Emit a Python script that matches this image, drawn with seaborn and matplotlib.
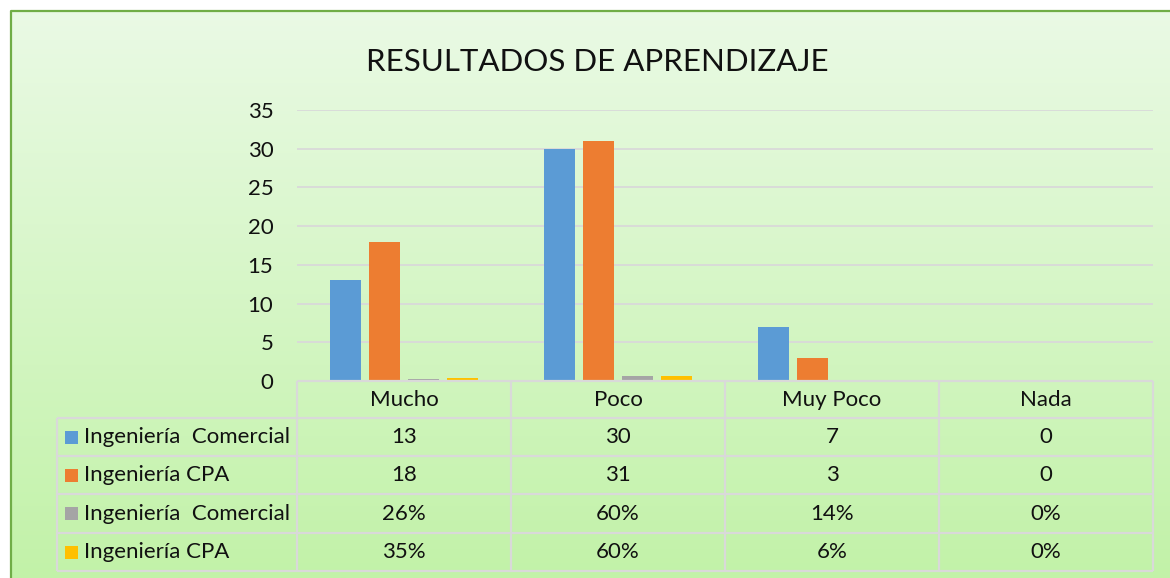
import numpy as np
import pandas as pd
import matplotlib
matplotlib.use("Agg")
import matplotlib.pyplot as plt
import seaborn as sns
from matplotlib.patches import Rectangle

# Chart data
categories = ["Mucho", "Poco", "Muy Poco", "Nada"]
series_labels = ["Ingeniería  Comercial", "Ingeniería CPA", "Ingeniería  Comercial", "Ingeniería CPA"]
comercial_counts = [13, 30, 7, 0]
cpa_counts = [18, 31, 3, 0]
comercial_pct = [0.26, 0.60, 0.14, 0.0]
cpa_pct = [0.35, 0.60, 0.06, 0.0]
y_ticks = [0, 5, 10, 15, 20, 25, 30, 35]
title = "RESULTADOS DE APRENDIZAJE"

colors = ["#5B9BD5", "#ED7D31", "#A5A5A5", "#FFC000"]
grid_color = "#D9D9D9"
font = ["Lato", "DejaVu Sans"]

sns.set_theme(style="white")
plt.rcParams["font.family"] = font

# long-form table for seaborn
series_values = [comercial_counts, cpa_counts, comercial_pct, cpa_pct]
rows = []
for i, vals in enumerate(series_values):
    for cat, v in zip(categories, vals):
        rows.append({"Categoria": cat, "Serie": f"s{i}", "Valor": v})
df = pd.DataFrame(rows)

W, H = 1170, 578
fig = plt.figure(figsize=(W / 100, H / 100), dpi=100)

# background gradient + frame (pixel coordinates)
bg = fig.add_axes([0, 0, 1, 1], zorder=-5)
bg.set_xlim(0, W)
bg.set_ylim(H, 0)
bg.axis("off")
top = np.array([234, 250, 229]) / 255
bot = np.array([194, 242, 168]) / 255
t = np.linspace(0, 1, 256)[:, None, None]
grad = top * (1 - t) + bot * t
bg.imshow(grad, extent=(11, W, H, 11), aspect="auto", interpolation="bilinear")
bg.plot([11, 11, W], [H, 11, 11], color="#70AD47", lw=1.6, solid_capstyle="projecting")

# plot area
ax_left, ax_right, ax_top, ax_bottom = 297, 1153, 110, 381
col_w = (ax_right - ax_left) / len(categories)
ax = fig.add_axes([ax_left / W, 1 - ax_bottom / H, (ax_right - ax_left) / W, (ax_bottom - ax_top) / H])
ax.set_facecolor("none")
sns.barplot(data=df, x="Categoria", y="Valor", hue="Serie", order=categories,
            palette=colors, width=0.73, gap=0.2, saturation=1, legend=False,
            edgecolor="none", linewidth=0, ax=ax)
ax.set_xlim(-0.5, len(categories) - 0.5)
ax.set_ylim(0, 35)
ax.set_yticks(y_ticks)
ax.set_yticklabels([str(v) for v in y_ticks], fontsize=16, color="#111111")
ax.set_xticks([])
ax.set_xlabel("")
ax.set_ylabel("")
ax.tick_params(axis="y", length=0, pad=17)
ax.yaxis.grid(True, color=grid_color, lw=1.3)
ax.set_axisbelow(True)
for s in ax.spines.values():
    s.set_visible(False)

fig.text(597 / W, 1 - 62 / H, title, ha="center", va="center", fontsize=22.5, color="#111111")

# data table under the chart (pixel coordinates)
ov = fig.add_axes([0, 0, 1, 1], zorder=5)
ov.set_xlim(0, W)
ov.set_ylim(H, 0)
ov.axis("off")
row_edges = [381, 418, 456, 494, 533, 571]
tab_left = 57
line_kw = dict(color=grid_color, lw=1.6, solid_capstyle="butt")
ov.plot([ax_left, ax_right], [row_edges[0]] * 2, **line_kw)
for y in row_edges[1:]:
    ov.plot([tab_left, ax_right], [y, y], **line_kw)
ov.plot([tab_left, tab_left], [row_edges[1], row_edges[-1]], **line_kw)
for k in range(len(categories) + 1):
    x = ax_left + k * col_w
    ov.plot([x, x], [row_edges[0], row_edges[-1]], **line_kw)

txt_kw = dict(fontsize=16, color="#111111", va="center")
for k, cat in enumerate(categories):
    cx = ax_left + (k + 0.5) * col_w
    ov.text(cx, (row_edges[0] + row_edges[1]) / 2, cat, ha="center", **txt_kw)

for i, (lab, vals) in enumerate(zip(series_labels, series_values)):
    cy = (row_edges[i + 1] + row_edges[i + 2]) / 2
    ov.add_patch(Rectangle((65, cy - 6.5), 13, 13, color=colors[i], lw=0))
    ov.text(84, cy, lab, ha="left", **txt_kw)
    for k, v in enumerate(vals):
        cx = ax_left + (k + 0.5) * col_w
        s = f"{v:.0%}" if i >= 2 else f"{v:g}"
        ov.text(cx, cy, s, ha="center", **txt_kw)

fig.savefig("out.png", dpi=100)
